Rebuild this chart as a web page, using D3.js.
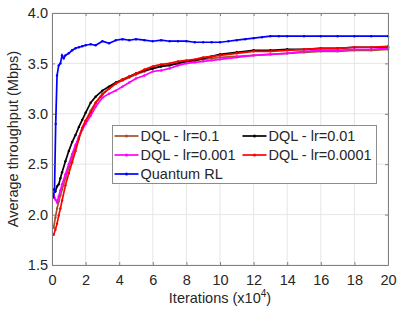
<!DOCTYPE html>
<html>
<head>
<meta charset="utf-8">
<script src="https://cdn.jsdelivr.net/npm/d3@7"></script>
<style>
  body { margin: 0; background: #fff; }
  text { font-family: "Liberation Sans", Arial, sans-serif; fill: #262626; }
</style>
</head>
<body>
<div id="chart"></div>
<script>
// iterations (x10^4) shared by the DQL runs
var xs = [0.1, 0.2, 0.3, 0.4, 0.5, 0.6, 0.8, 1.0, 1.2, 1.4, 1.6, 1.8, 2.0, 2.3, 2.6, 3.0, 3.4, 3.8, 4.2, 4.6,
          5.0, 5.5, 6.0, 6.5, 7.0, 7.5, 8.0, 8.5, 9.0, 9.5, 10, 11, 12, 13, 14, 15, 16, 17, 18, 19, 20];

var dql01 = [1.87, 1.97, 2.06, 2.13, 2.19, 2.25, 2.36, 2.47, 2.57, 2.67, 2.77, 2.86, 2.93, 3.03, 3.11, 3.20, 3.25, 3.30, 3.33, 3.36,
             3.39, 3.42, 3.45, 3.47, 3.49, 3.50, 3.52, 3.53, 3.54, 3.55, 3.56, 3.57, 3.58, 3.59, 3.60, 3.61, 3.62, 3.62, 3.63, 3.63, 3.64];
var dql001 = [2.25, 2.23, 2.28, 2.30, 2.36, 2.42, 2.53, 2.63, 2.72, 2.79, 2.87, 2.94, 3.01, 3.11, 3.17, 3.23, 3.27, 3.31, 3.34, 3.37,
              3.40, 3.43, 3.45, 3.47, 3.48, 3.50, 3.52, 3.53, 3.55, 3.57, 3.59, 3.61, 3.63, 3.63, 3.64, 3.64, 3.65, 3.65, 3.66, 3.66, 3.66];
var dql0001 = [2.20, 2.15, 2.12, 2.18, 2.24, 2.30, 2.40, 2.50, 2.60, 2.69, 2.77, 2.84, 2.90, 2.98, 3.07, 3.16, 3.20, 3.23, 3.27, 3.31,
               3.35, 3.38, 3.42, 3.43, 3.45, 3.48, 3.50, 3.51, 3.52, 3.53, 3.54, 3.56, 3.58, 3.59, 3.60, 3.62, 3.63, 3.63, 3.64, 3.64, 3.65];
var dql00001 = [1.80, 1.85, 1.91, 1.99, 2.06, 2.14, 2.29, 2.41, 2.52, 2.63, 2.75, 2.86, 2.93, 3.01, 3.11, 3.19, 3.25, 3.30, 3.34, 3.37,
                3.40, 3.44, 3.47, 3.49, 3.50, 3.52, 3.53, 3.54, 3.56, 3.57, 3.58, 3.60, 3.62, 3.62, 3.63, 3.64, 3.65, 3.65, 3.66, 3.66, 3.67];

// Quantum RL has its own, denser start
var xQ = [0.08, 0.15, 0.22, 0.3, 0.4, 0.5, 0.6, 0.7, 0.8, 1.0, 1.2, 1.4, 1.6, 1.8, 2.0, 2.3, 2.6, 3.0, 3.4, 3.8,
          4.2, 4.6, 5.0, 5.5, 6.0, 6.5, 7.0, 7.5, 8.0, 8.5, 9.0, 9.5, 10, 10.5, 11, 11.5, 12, 12.5, 13, 13.5,
          14, 15, 16, 17, 18, 19, 20];
var quantum = [2.17, 2.25, 2.90, 3.38, 3.48, 3.50, 3.58, 3.55, 3.58, 3.60, 3.63, 3.65, 3.66, 3.67, 3.68, 3.69, 3.68, 3.72, 3.70, 3.73,
               3.74, 3.73, 3.74, 3.73, 3.72, 3.73, 3.72, 3.72, 3.72, 3.71, 3.71, 3.71, 3.71, 3.72, 3.73, 3.74, 3.75, 3.76, 3.77, 3.77,
               3.77, 3.77, 3.77, 3.77, 3.77, 3.77, 3.77];

var xTicks = [0, 2, 4, 6, 8, 10, 12, 14, 16, 18, 20];
var yTicks = [1.5, 2.0, 2.5, 3.0, 3.5, 4.0];

var series = [
  {name: "DQL - lr=0.1",    x: xs, y: dql01,    color: "#a0522d"},
  {name: "DQL - lr=0.01",   x: xs, y: dql001,   color: "#000000"},
  {name: "DQL - lr=0.001",  x: xs, y: dql0001,  color: "#ff00ff"},
  {name: "DQL - lr=0.0001", x: xs, y: dql00001, color: "#ff0000"},
  {name: "Quantum RL",      x: xQ, y: quantum,  color: "#0000ff"}
];

var margin = {top: 13, right: 10, bottom: 51, left: 52},
    width = 388 - margin.left,
    height = 265 - margin.top;

var svg = d3.select("#chart")
  .append("svg")
    .attr("width", 398)
    .attr("height", 316)
  .append("g")
    .attr("transform", "translate(" + margin.left + "," + margin.top + ")");

var x = d3.scaleLinear().domain([0, 20]).range([0, width]);
var y = d3.scaleLinear().domain([1.5, 4.0]).range([height, 0]);

// grid
svg.append("g").selectAll("line")
  .data(xTicks).enter().append("line")
    .attr("x1", d => x(d)).attr("x2", d => x(d))
    .attr("y1", 0).attr("y2", height)
    .attr("stroke", "#e6e6e6").attr("stroke-width", 1);
svg.append("g").selectAll("line")
  .data(yTicks).enter().append("line")
    .attr("x1", 0).attr("x2", width)
    .attr("y1", d => y(d)).attr("y2", d => y(d))
    .attr("stroke", "#e6e6e6").attr("stroke-width", 1);

// lines + dot markers
var line = d3.line()
  .x(d => x(d[0]))
  .y(d => y(d[1]));

series.forEach(function(s) {
  var pts = s.x.map((v, i) => [v, s.y[i]]);
  svg.append("path")
    .datum(pts)
    .attr("fill", "none")
    .attr("stroke", s.color)
    .attr("stroke-width", 1.7)
    .attr("d", line);
  svg.append("g").selectAll("circle")
    .data(pts).enter().append("circle")
      .attr("cx", d => x(d[0]))
      .attr("cy", d => y(d[1]))
      .attr("r", 1.2)
      .attr("fill", s.color);
});

// axes, matlab style: box with inward ticks
var axColor = "#808080";
var axBottom = svg.append("g")
  .attr("transform", "translate(0," + height + ")")
  .call(d3.axisBottom(x).tickValues(xTicks).tickSizeInner(-3).tickSizeOuter(0).tickPadding(10));
var axLeft = svg.append("g")
  .call(d3.axisLeft(y).tickValues(yTicks).tickFormat(d3.format(".1f")).tickSizeInner(-3).tickSizeOuter(0).tickPadding(4));
var axTop = svg.append("g")
  .call(d3.axisTop(x).tickValues(xTicks).tickSizeInner(-3).tickSizeOuter(0).tickFormat(""));
var axRight = svg.append("g")
  .attr("transform", "translate(" + width + ",0)")
  .call(d3.axisRight(y).tickValues(yTicks).tickSizeInner(-3).tickSizeOuter(0).tickFormat(""));

[axBottom, axLeft, axTop, axRight].forEach(function(a) {
  a.selectAll("path, line").attr("stroke", axColor);
  a.selectAll("text").style("font-size", "14.5px").attr("fill", "#262626")
    .style("font-family", "'Liberation Sans', Arial, sans-serif");
});

// axis labels
var xl = svg.append("text")
  .attr("text-anchor", "middle")
  .attr("x", width / 2)
  .attr("y", height + 38)
  .style("font-size", "14.5px");
xl.append("tspan").text("Iterations (x10");
xl.append("tspan").attr("dy", -6).style("font-size", "10px").text("4");
xl.append("tspan").attr("dy", 6).text(")");

svg.append("text")
  .attr("text-anchor", "middle")
  .attr("transform", "rotate(-90)")
  .attr("x", -126)
  .attr("y", -34)
  .style("font-size", "14.5px")
  .text("Average throughput (Mbps)");

// legend
var lg = svg.append("g").attr("transform", "translate(" + (112.5 - margin.left) + "," + (125.5 - margin.top) + ")");
lg.append("rect")
  .attr("width", 264).attr("height", 58)
  .attr("fill", "#fff").attr("stroke", "#8c8c8c").attr("stroke-width", 1);

var slots = [[0, 0], [128, 0], [0, 1], [128, 1], [0, 2]];
series.forEach(function(s, i) {
  var g = lg.append("g").attr("transform", "translate(" + (2 + slots[i][0]) + "," + (10.5 + slots[i][1] * 19) + ")");
  g.append("line").attr("x1", 0).attr("x2", 24).attr("y1", 0).attr("y2", 0)
    .attr("stroke", s.color).attr("stroke-width", 1.7);
  g.append("circle").attr("cx", 12).attr("cy", 0).attr("r", 1.5).attr("fill", s.color);
  g.append("text").attr("x", 26).attr("y", 5).style("font-size", "14.5px").text(s.name);
});
</script>
</body>
</html>
